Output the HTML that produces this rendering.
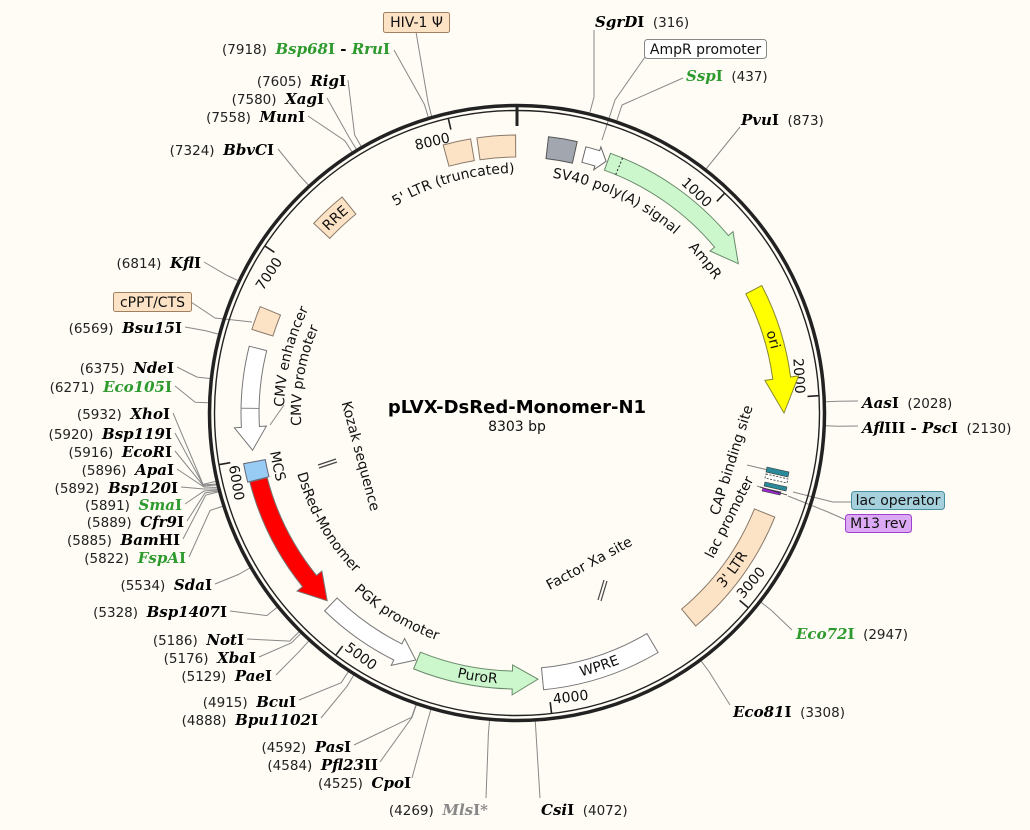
<!DOCTYPE html>
<html><head><meta charset="utf-8"><style>
html,body{margin:0;padding:0;background:#fefcf5;}
svg{display:block;}
.n{font-family:"DejaVu Sans","Liberation Sans",sans-serif;font-size:13.5px;fill:#222;}
.e{font-family:"DejaVu Serif","Liberation Serif",serif;font-size:15px;font-weight:bold;fill:#000;}
.g{fill:#2e9a2e;}
.t{font-family:"DejaVu Sans","Liberation Sans",sans-serif;font-size:14px;fill:#111;}
.ld{stroke:#888;stroke-width:1;fill:none;}
</style></head><body>
<svg width="1030" height="830" viewBox="0 0 1030 830" xmlns="http://www.w3.org/2000/svg">
<rect width="1030" height="830" fill="#fefcf5"/>
<defs>
<path id="p5ltr" d="M319.2,277.1 A240 240 0 0 1 616.5,194.6"/>
<path id="psv40" d="M455.4,183.1 A238 238 0 0 1 732.7,312.4"/>
<path id="pampr" d="M562.4,179.4 A238 238 0 0 1 755.0,417.2"/>
<path id="pori" d="M699.0,224.5 A262 262 0 0 1 771.2,476.4"/>
<path id="prre" d="M266.4,336.4 A262 262 0 0 1 458.1,157.7"/>
<path id="pcmve" d="M307.6,515.1 A233 233 0 0 1 380.0,224.5"/>
<path id="pcmvp" d="M329.9,521.0 A216 216 0 0 1 378.2,247.5"/>
<path id="pmcs" d="M278.6,337.8 A250 250 0 0 0 332.7,581.9"/>
<path id="pds" d="M292.5,373.4 A228 228 0 0 0 439.0,627.3"/>
<path id="ppgk" d="M289.1,491.5 A241 241 0 0 0 554.7,651.0"/>
<path id="ppuro" d="M348.3,625.1 A271 271 0 0 0 616.3,665.1"/>
<path id="pwpre" d="M460.7,678.1 A271 271 0 0 0 718.4,594.3"/>
<path id="p3ltr" d="M627.2,660.6 A271 271 0 0 0 786.5,441.3"/>
</defs>

<g class="ld">
<polyline points="594,30 594,97 590,112"/>
<polyline points="645,57 615,100 602,140"/>
<polyline points="683,78 622,105 617,120"/>
<polyline points="740,127 706,169"/>
<polyline points="858,401 838.8,401.2 825.8,401.7"/>
<polyline points="858,426 838.7,426.2 825.8,425.7"/>
<polyline points="792,630 771.4,610.4 761.2,602.4"/>
<polyline points="730,705 709,671.5 701.2,661.1"/>
<polyline points="540,798 536.1,734.4 535.3,721.4"/>
<polyline points="486,798 488.4,733.7 489.5,720.8"/>
<polyline points="412,778 427.2,722.2 430.8,709.7"/>
<polyline points="380,762 412,717.4 416.3,705.1"/>
<polyline points="354,745 411.6,717.3 415.9,705"/>
<polyline points="321,718 346.9,686.4 353.7,675.3"/>
<polyline points="299,700 341.2,682.7 348.3,671.8"/>
<polyline points="276,675 299.9,650.8 308.6,641.2"/>
<polyline points="259,657 291.5,642.8 300.6,633.6"/>
<polyline points="247,639 289.7,641.1 298.9,631.9"/>
<polyline points="230,611 266.8,615.6 276.9,607.5"/>
<polyline points="215,584 238.4,574.5 249.7,568"/>
<polyline points="189,557 210.1,510.4 222.5,506.4"/>
<polyline points="183,539 205.7,495.2 218.3,491.9"/>
<polyline points="187,521 205,493 218,491"/>
<polyline points="185,504 204,491 217.5,490"/>
<polyline points="181,487 204,489 217.2,489"/>
<polyline points="177,469 204,487 216.8,487.5"/>
<polyline points="175,451 203.5,486 216.5,485"/>
<polyline points="175,433 203.2,485 216.3,484"/>
<polyline points="173,413 203,484.3 215.7,481.4"/>
<polyline points="175,386 195.2,402.3 208.2,402.7"/>
<polyline points="177,367 197,377.1 209.9,378.5"/>
<polyline points="185,327 205.7,330.8 218.3,334.1"/>
<polyline points="191,302 215,318 252,322"/>
<polyline points="204,262 226.1,274.9 237.9,280.5"/>
<polyline points="278,149 299.6,175.5 308.4,185.1"/>
<polyline points="308,116 345,140.8 351.9,151.8"/>
<polyline points="327,98 349.5,138 356.3,149.1"/>
<polyline points="348,80 354.6,135 361.1,146.2"/>
<polyline points="394,50 424.5,104.6 428.2,117"/>
<polyline points="416,32 428,102 432,118"/>
<polyline points="793,492 833,502 851,502"/>
<polyline points="788,496 828,512 846,520"/>
<polyline points="747,465 768,470"/>
<polyline points="757,486 763,488"/>
<polyline points="270,425 284,405"/>
</g>

<circle cx="517" cy="413" r="307.5" fill="none" stroke="#222" stroke-width="3.5"/>
<circle cx="517" cy="413" r="302.5" fill="none" stroke="#222" stroke-width="1.4"/>
<line x1="517" y1="107" x2="517" y2="126" stroke="#222" stroke-width="3"/>
<g stroke="#222" stroke-width="1.6">
<line x1="716.8" y1="201.4" x2="724.4" y2="193.4"/>
<line x1="807.5" y1="396.4" x2="818.5" y2="395.7"/>
<line x1="739.6" y1="600.4" x2="748" y2="607.5"/>
<line x1="550.2" y1="702.1" x2="551.5" y2="713"/>
<line x1="342.7" y1="646" x2="336.1" y2="654.8"/>
<line x1="230.3" y1="462.7" x2="219.4" y2="464.6"/>
<line x1="274.4" y1="252.3" x2="265.2" y2="246.2"/>
<line x1="450.9" y1="129.6" x2="448.4" y2="118.9"/>
</g>
<g class="t">
<text transform="rotate(43.36 517 413)" x="514" y="134" text-anchor="end">1000</text>
<text transform="rotate(86.72 517 413)" x="514" y="134" text-anchor="end">2000</text>
<text transform="rotate(303.52 517 413)" x="514" y="134" text-anchor="end">7000</text>
<text transform="rotate(346.88 517 413)" x="514" y="134" text-anchor="end">8000</text>
<text transform="rotate(-49.92 517 413)" x="520" y="706">3000</text>
<text transform="rotate(-6.56 517 413)" x="520" y="706">4000</text>
<text transform="rotate(36.8 517 413)" x="520" y="706">5000</text>
<text transform="rotate(80.16 517 413)" x="520" y="706">6000</text>
</g>

<g stroke="#8a7a6a" stroke-width="1">
<path d="M443.2,145 A278 278 0 0 1 470.6,138.9 L474.3,160.6 A256 256 0 0 0 449,166.2 Z" fill="#fde3c6"/>
<path d="M476.9,137.9 A278 278 0 0 1 515.6,135 L515.7,157 A256 256 0 0 0 480,159.7 Z" fill="#fde3c6"/>
<path d="M548.5,136.8 A278 278 0 0 1 577.2,141.6 L572.4,163.1 A256 256 0 0 0 546,158.6 Z" fill="#a2a6ae" stroke="#555"/>
<path d="M585.9,146.8 A275 275 0 0 1 599.7,150.7 L600.9,146.9 L606.1,161.3 L593.7,169.8 L594.9,166 A259 259 0 0 0 581.9,162.3 Z" fill="#fff" stroke="#666"/>
<path d="M610.5,153.3 A276 276 0 0 1 728.4,235.6 L733,231.7 L738.3,263.7 L710,251 L714.6,247.2 A258 258 0 0 0 604.4,170.2 Z" fill="#ccf7cc" stroke="#6a8a6a"/>
<line x1="615.7" y1="174.6" x2="622.6" y2="158" stroke="#222" stroke-dasharray="2,2"/>
<path d="M761.8,285.6 A276 276 0 0 1 790.6,377 L798.6,375.9 L784,413 L764.9,380.4 L772.8,379.3 A258 258 0 0 0 745.8,293.9 Z" fill="#ffff00" stroke="#8a8a30"/>
<path d="M774.8,517.1 A278 278 0 0 1 695.7,626 L681.6,609.1 A256 256 0 0 0 754.4,508.9 Z" fill="#fde3c6"/>
<path d="M658.1,652.5 A278 278 0 0 1 543.6,689.7 L541.5,667.8 A256 256 0 0 0 646.9,633.6 Z" fill="#fff" stroke="#777"/>
<path d="M413.6,668.9 A276 276 0 0 0 512.2,689 L512.1,694.9 L538,679.2 L512.6,665 L512.5,671 A258 258 0 0 1 420.4,652.2 Z" fill="#ccf7cc" stroke="#6a8a6a"/>
<path d="M324.6,610.9 A276 276 0 0 0 393.8,660 L391.2,665.4 L415.7,660 L404.6,638.5 L401.9,643.9 A258 258 0 0 1 337.1,598 Z" fill="#fff" stroke="#777"/>
<path d="M249.8,482.1 A276 276 0 0 0 302.5,586.7 L297.1,591.1 L327.2,600.8 L321.9,571 L316.5,575.4 A258 258 0 0 1 267.2,477.6 Z" fill="#ff0000" stroke="#777"/>
<path d="M243.6,463.7 A278 278 0 0 0 247.7,482.1 L269,476.7 A256 256 0 0 1 265.3,459.6 Z" fill="#99ccf5" stroke="#667"/>
<path d="M249.2,346.2 A276 276 0 0 0 241.4,427.4 L234.4,427.8 L252.6,450.2 L266.4,426.1 L259.4,426.5 A258 258 0 0 1 266.7,350.6 Z" fill="#fff" stroke="#777"/>
<line x1="259.1" y1="408.5" x2="241.1" y2="408.2" stroke="#888"/>
<path d="M251.9,329.4 A278 278 0 0 1 260.2,306.6 L280.5,315 A256 256 0 0 0 272.9,336 Z" fill="#fde3c6"/>
<path d="M313.7,223.4 A278 278 0 0 1 342.1,197 L355.9,214.1 A256 256 0 0 0 329.8,238.4 Z" fill="#fde3c6"/>
</g>
<polygon points="767,467 789,472 788,477 766,472" fill="#2b8a9a" stroke="#333" stroke-width="0.6"/>
<polygon points="766,474 788,479 787,483 765,478" fill="#fff" stroke="#333" stroke-width="0.8" stroke-dasharray="2,1.5"/>
<polygon points="765,482 787,487 786,491 764,486" fill="#2b8a9a" stroke="#333" stroke-width="0.6"/>
<polygon points="763,488 781,492 780,495 762,491" fill="#9a2ad0" stroke="#333" stroke-width="0.6"/>
<line x1="760" y1="487" x2="787" y2="495" stroke="#333" stroke-width="0.8"/>
<g stroke="#444" stroke-width="1.2">
<line x1="318" y1="465" x2="336" y2="459"/>
<line x1="319" y1="468" x2="337" y2="462"/>
<line x1="598" y1="600" x2="604" y2="580"/>
<line x1="601" y1="601" x2="607" y2="581"/>
</g>

<g class="t">
<text><textPath href="#p5ltr" startOffset="50%" text-anchor="middle">5' LTR (truncated)</textPath></text>
<text><textPath href="#psv40" startOffset="50%" text-anchor="middle">SV40 poly(A) signal</textPath></text>
<text><textPath href="#pampr" startOffset="50%" text-anchor="middle">AmpR</textPath></text>
<text><textPath href="#pori" startOffset="50%" text-anchor="middle">ori</textPath></text>
<text><textPath href="#prre" startOffset="50%" text-anchor="middle">RRE</textPath></text>
<text><textPath href="#pcmve" startOffset="50%" text-anchor="middle">CMV enhancer</textPath></text>
<text><textPath href="#pcmvp" startOffset="50%" text-anchor="middle">CMV promoter</textPath></text>
<text><textPath href="#pmcs" startOffset="50%" text-anchor="middle">MCS</textPath></text>
<text><textPath href="#pds" startOffset="50%" text-anchor="middle">DsRed-Monomer</textPath></text>
<text><textPath href="#ppgk" startOffset="50%" text-anchor="middle">PGK promoter</textPath></text>
<text><textPath href="#ppuro" startOffset="50%" text-anchor="middle">PuroR</textPath></text>
<text><textPath href="#pwpre" startOffset="50%" text-anchor="middle">WPRE</textPath></text>
<text><textPath href="#p3ltr" startOffset="50%" text-anchor="middle">3' LTR</textPath></text>
<text transform="translate(361,456) rotate(75)" y="5" text-anchor="middle">Kozak sequence</text>
<text transform="translate(589,563) rotate(-28.5)" y="5" text-anchor="middle">Factor Xa site</text>
<text transform="translate(731,460) rotate(-72.6)" y="5" text-anchor="middle">CAP binding site</text>
<text transform="translate(729,517) rotate(-63)" y="5" text-anchor="middle">lac promoter</text>
</g>

<text x="517" y="413" text-anchor="middle" font-family="DejaVu Sans, Liberation Sans, sans-serif" font-size="18" font-weight="bold" fill="#000">pLVX-DsRed-Monomer-N1</text>
<text x="517" y="431" text-anchor="middle" class="t">8303 bp</text>

<rect x="383.5" y="12.5" width="66" height="20" rx="2" fill="#fde3c6" stroke="#a08060"/>
<text x="416.5" y="27" text-anchor="middle" class="t">HIV-1 Ψ</text>
<rect x="644.5" y="39.5" width="122" height="19" rx="3" fill="#fff" stroke="#888"/>
<text x="705.5" y="54" text-anchor="middle" class="t">AmpR promoter</text>
<rect x="113.5" y="292.5" width="78" height="19" rx="2" fill="#fde3c6" stroke="#a08060"/>
<text x="152.5" y="307" text-anchor="middle" class="t">cPPT/CTS</text>
<rect x="851.5" y="491.5" width="93" height="18" rx="3" fill="#a6d0dc" stroke="#4a8fa0"/>
<text x="898" y="505" text-anchor="middle" class="t">lac operator</text>
<rect x="845.5" y="514.5" width="66" height="18" rx="3" fill="#dcaaf4" stroke="#a040d0"/>
<text x="878.5" y="528" text-anchor="middle" class="t">M13 rev</text>

<text x="595" y="27"><tspan class="e"><tspan font-style="italic">SgrD</tspan>I</tspan><tspan class="n">&#160;&#160;(316)</tspan></text>
<text x="686" y="81"><tspan class="e g"><tspan font-style="italic">Ssp</tspan>I</tspan><tspan class="n">&#160;&#160;(437)</tspan></text>
<text x="741" y="125"><tspan class="e"><tspan font-style="italic">Pvu</tspan>I</tspan><tspan class="n">&#160;&#160;(873)</tspan></text>
<text x="862" y="408"><tspan class="e"><tspan font-style="italic">Aas</tspan>I</tspan><tspan class="n">&#160;&#160;(2028)</tspan></text>
<text x="862" y="433"><tspan class="e"><tspan font-style="italic">Afl</tspan>III - <tspan font-style="italic">Psc</tspan>I</tspan><tspan class="n">&#160;&#160;(2130)</tspan></text>
<text x="796" y="639"><tspan class="e g"><tspan font-style="italic">Eco72</tspan>I</tspan><tspan class="n">&#160;&#160;(2947)</tspan></text>
<text x="733" y="717"><tspan class="e"><tspan font-style="italic">Eco81</tspan>I</tspan><tspan class="n">&#160;&#160;(3308)</tspan></text>
<text x="541" y="815"><tspan class="e"><tspan font-style="italic">Csi</tspan>I</tspan><tspan class="n">&#160;&#160;(4072)</tspan></text>

<g text-anchor="end">
<text x="390" y="54"><tspan class="n">(7918)&#160;&#160;</tspan><tspan class="e g"><tspan font-style="italic">Bsp68</tspan>I</tspan><tspan class="e"> - </tspan><tspan class="e g"><tspan font-style="italic">Rru</tspan>I</tspan></text>
<text x="346" y="86"><tspan class="n">(7605)&#160;&#160;</tspan><tspan class="e"><tspan font-style="italic">Rig</tspan>I</tspan></text>
<text x="324" y="104"><tspan class="n">(7580)&#160;&#160;</tspan><tspan class="e"><tspan font-style="italic">Xag</tspan>I</tspan></text>
<text x="305" y="122"><tspan class="n">(7558)&#160;&#160;</tspan><tspan class="e"><tspan font-style="italic">Mun</tspan>I</tspan></text>
<text x="274" y="155"><tspan class="n">(7324)&#160;&#160;</tspan><tspan class="e"><tspan font-style="italic">BbvC</tspan>I</tspan></text>
<text x="201" y="268"><tspan class="n">(6814)&#160;&#160;</tspan><tspan class="e"><tspan font-style="italic">Kfl</tspan>I</tspan></text>
<text x="182" y="333"><tspan class="n">(6569)&#160;&#160;</tspan><tspan class="e"><tspan font-style="italic">Bsu15</tspan>I</tspan></text>
<text x="174" y="373"><tspan class="n">(6375)&#160;&#160;</tspan><tspan class="e"><tspan font-style="italic">Nde</tspan>I</tspan></text>
<text x="172" y="392"><tspan class="n">(6271)&#160;&#160;</tspan><tspan class="e g"><tspan font-style="italic">Eco105</tspan>I</tspan></text>
<text x="170" y="419"><tspan class="n">(5932)&#160;&#160;</tspan><tspan class="e"><tspan font-style="italic">Xho</tspan>I</tspan></text>
<text x="172" y="439"><tspan class="n">(5920)&#160;&#160;</tspan><tspan class="e"><tspan font-style="italic">Bsp119</tspan>I</tspan></text>
<text x="172" y="457"><tspan class="n">(5916)&#160;&#160;</tspan><tspan class="e"><tspan font-style="italic">EcoR</tspan>I</tspan></text>
<text x="174" y="475"><tspan class="n">(5896)&#160;&#160;</tspan><tspan class="e"><tspan font-style="italic">Apa</tspan>I</tspan></text>
<text x="178" y="493"><tspan class="n">(5892)&#160;&#160;</tspan><tspan class="e"><tspan font-style="italic">Bsp120</tspan>I</tspan></text>
<text x="182" y="510"><tspan class="n">(5891)&#160;&#160;</tspan><tspan class="e g"><tspan font-style="italic">Sma</tspan>I</tspan></text>
<text x="184" y="527"><tspan class="n">(5889)&#160;&#160;</tspan><tspan class="e"><tspan font-style="italic">Cfr9</tspan>I</tspan></text>
<text x="180" y="545"><tspan class="n">(5885)&#160;&#160;</tspan><tspan class="e"><tspan font-style="italic">Bam</tspan>HI</tspan></text>
<text x="186" y="563"><tspan class="n">(5822)&#160;&#160;</tspan><tspan class="e g"><tspan font-style="italic">FspA</tspan>I</tspan></text>
<text x="212" y="590"><tspan class="n">(5534)&#160;&#160;</tspan><tspan class="e"><tspan font-style="italic">Sda</tspan>I</tspan></text>
<text x="227" y="617"><tspan class="n">(5328)&#160;&#160;</tspan><tspan class="e"><tspan font-style="italic">Bsp1407</tspan>I</tspan></text>
<text x="244" y="645"><tspan class="n">(5186)&#160;&#160;</tspan><tspan class="e"><tspan font-style="italic">Not</tspan>I</tspan></text>
<text x="256" y="663"><tspan class="n">(5176)&#160;&#160;</tspan><tspan class="e"><tspan font-style="italic">Xba</tspan>I</tspan></text>
<text x="272" y="681"><tspan class="n">(5129)&#160;&#160;</tspan><tspan class="e"><tspan font-style="italic">Pae</tspan>I</tspan></text>
<text x="296" y="707"><tspan class="n">(4915)&#160;&#160;</tspan><tspan class="e"><tspan font-style="italic">Bcu</tspan>I</tspan></text>
<text x="318" y="725"><tspan class="n">(4888)&#160;&#160;</tspan><tspan class="e"><tspan font-style="italic">Bpu1102</tspan>I</tspan></text>
<text x="351" y="752"><tspan class="n">(4592)&#160;&#160;</tspan><tspan class="e"><tspan font-style="italic">Pas</tspan>I</tspan></text>
<text x="378" y="770"><tspan class="n">(4584)&#160;&#160;</tspan><tspan class="e"><tspan font-style="italic">Pfl23</tspan>II</tspan></text>
<text x="411" y="788"><tspan class="n">(4525)&#160;&#160;</tspan><tspan class="e"><tspan font-style="italic">Cpo</tspan>I</tspan></text>
<text x="488" y="815"><tspan class="n">(4269)&#160;&#160;</tspan><tspan class="e" style="fill:#888"><tspan font-style="italic">Mls</tspan>I*</tspan></text>
</g>
</svg>
</body></html>
